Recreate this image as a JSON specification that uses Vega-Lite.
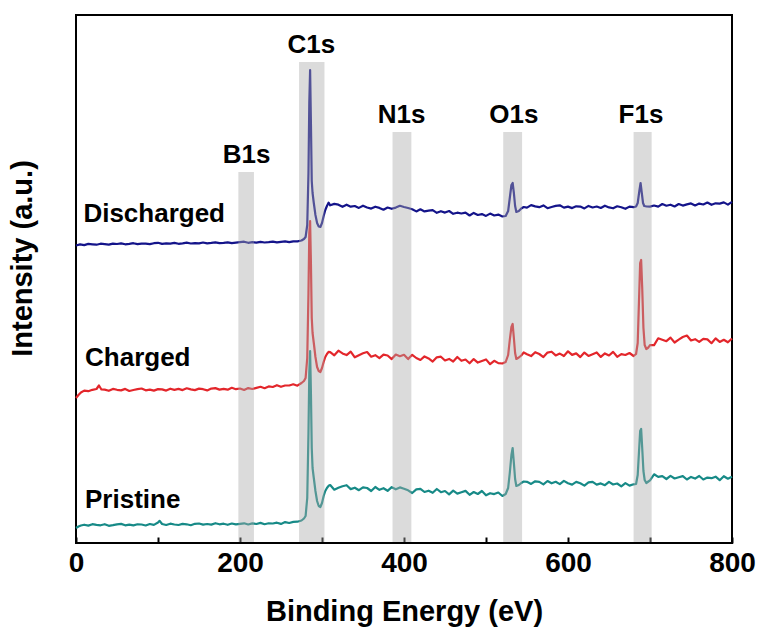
{
  "$schema": "https://vega.github.io/schema/vega-lite/v6.json",
  "width": 656,
  "height": 528,
  "autosize": {"type": "none"},
  "padding": {"left": 76, "top": 15, "right": 26, "bottom": 91},
  "background": "white",
  "config": {
    "view": {"stroke": "black", "strokeWidth": 2},
    "font": "Liberation Sans",
    "text": {"font": "Liberation Sans"}
  },
  "datasets": {
    "spectra": [
      {"sample":"Pristine","eV":0,"intensity":15},{"sample":"Pristine","eV":3,"intensity":16.5},{"sample":"Pristine","eV":6,"intensity":17.5},{"sample":"Pristine","eV":10,"intensity":18.3},{"sample":"Pristine","eV":15,"intensity":17.4},{"sample":"Pristine","eV":20,"intensity":18.8},{"sample":"Pristine","eV":25,"intensity":18.1},{"sample":"Pristine","eV":30,"intensity":17.7},{"sample":"Pristine","eV":35,"intensity":18.8},{"sample":"Pristine","eV":40,"intensity":17.2},{"sample":"Pristine","eV":45,"intensity":17.9},{"sample":"Pristine","eV":50,"intensity":18.7},{"sample":"Pristine","eV":55,"intensity":19.1},{"sample":"Pristine","eV":60,"intensity":17.7},{"sample":"Pristine","eV":65,"intensity":18.3},{"sample":"Pristine","eV":70,"intensity":17.6},{"sample":"Pristine","eV":75,"intensity":18.7},{"sample":"Pristine","eV":80,"intensity":18.5},{"sample":"Pristine","eV":85,"intensity":17.5},{"sample":"Pristine","eV":90,"intensity":19.0},{"sample":"Pristine","eV":95,"intensity":18.1},{"sample":"Pristine","eV":100,"intensity":20.5},{"sample":"Pristine","eV":102,"intensity":22.2},{"sample":"Pristine","eV":105,"intensity":19},{"sample":"Pristine","eV":110,"intensity":18.0},{"sample":"Pristine","eV":115,"intensity":19.3},{"sample":"Pristine","eV":120,"intensity":18.5},{"sample":"Pristine","eV":125,"intensity":18.0},{"sample":"Pristine","eV":130,"intensity":19.1},{"sample":"Pristine","eV":135,"intensity":18.7},{"sample":"Pristine","eV":140,"intensity":17.8},{"sample":"Pristine","eV":145,"intensity":19.2},{"sample":"Pristine","eV":150,"intensity":19.5},{"sample":"Pristine","eV":155,"intensity":18.4},{"sample":"Pristine","eV":160,"intensity":19.0},{"sample":"Pristine","eV":165,"intensity":18.4},{"sample":"Pristine","eV":170,"intensity":19.8},{"sample":"Pristine","eV":175,"intensity":18.7},{"sample":"Pristine","eV":180,"intensity":19.3},{"sample":"Pristine","eV":185,"intensity":18.2},{"sample":"Pristine","eV":190,"intensity":19.5},{"sample":"Pristine","eV":195,"intensity":18.6},{"sample":"Pristine","eV":200,"intensity":19.2},{"sample":"Pristine","eV":205,"intensity":19.7},{"sample":"Pristine","eV":210,"intensity":18.5},{"sample":"Pristine","eV":215,"intensity":19.6},{"sample":"Pristine","eV":220,"intensity":19.0},{"sample":"Pristine","eV":225,"intensity":20.1},{"sample":"Pristine","eV":230,"intensity":18.8},{"sample":"Pristine","eV":235,"intensity":19.7},{"sample":"Pristine","eV":240,"intensity":19.5},{"sample":"Pristine","eV":245,"intensity":20.3},{"sample":"Pristine","eV":250,"intensity":19.1},{"sample":"Pristine","eV":255,"intensity":20.9},{"sample":"Pristine","eV":260,"intensity":20.0},{"sample":"Pristine","eV":265,"intensity":21.1},{"sample":"Pristine","eV":270,"intensity":21.3},{"sample":"Pristine","eV":275,"intensity":22.5},{"sample":"Pristine","eV":278,"intensity":24.5},{"sample":"Pristine","eV":280,"intensity":27},{"sample":"Pristine","eV":282,"intensity":45},{"sample":"Pristine","eV":283.5,"intensity":110},{"sample":"Pristine","eV":284.5,"intensity":170},{"sample":"Pristine","eV":285.5,"intensity":192},{"sample":"Pristine","eV":286.5,"intensity":150},{"sample":"Pristine","eV":287.5,"intensity":95},{"sample":"Pristine","eV":288.5,"intensity":75},{"sample":"Pristine","eV":290,"intensity":65},{"sample":"Pristine","eV":292,"intensity":52},{"sample":"Pristine","eV":294,"intensity":42},{"sample":"Pristine","eV":296,"intensity":37},{"sample":"Pristine","eV":298,"intensity":36},{"sample":"Pristine","eV":300,"intensity":40},{"sample":"Pristine","eV":302,"intensity":47},{"sample":"Pristine","eV":304,"intensity":52},{"sample":"Pristine","eV":306,"intensity":55},{"sample":"Pristine","eV":308,"intensity":57.2},{"sample":"Pristine","eV":310,"intensity":58.0},{"sample":"Pristine","eV":315,"intensity":53.3},{"sample":"Pristine","eV":320,"intensity":55.2},{"sample":"Pristine","eV":325,"intensity":56.8},{"sample":"Pristine","eV":330,"intensity":57.8},{"sample":"Pristine","eV":335,"intensity":53.9},{"sample":"Pristine","eV":340,"intensity":55.3},{"sample":"Pristine","eV":345,"intensity":52.8},{"sample":"Pristine","eV":350,"intensity":55.7},{"sample":"Pristine","eV":355,"intensity":55.0},{"sample":"Pristine","eV":360,"intensity":52.0},{"sample":"Pristine","eV":365,"intensity":56.0},{"sample":"Pristine","eV":370,"intensity":53.2},{"sample":"Pristine","eV":375,"intensity":54.8},{"sample":"Pristine","eV":380,"intensity":52.2},{"sample":"Pristine","eV":385,"intensity":55.8},{"sample":"Pristine","eV":390,"intensity":53.7},{"sample":"Pristine","eV":395,"intensity":55.6},{"sample":"Pristine","eV":400,"intensity":54.3},{"sample":"Pristine","eV":405,"intensity":52.7},{"sample":"Pristine","eV":410,"intensity":50.0},{"sample":"Pristine","eV":415,"intensity":53.6},{"sample":"Pristine","eV":420,"intensity":54.2},{"sample":"Pristine","eV":425,"intensity":51.0},{"sample":"Pristine","eV":430,"intensity":52.3},{"sample":"Pristine","eV":435,"intensity":50.2},{"sample":"Pristine","eV":440,"intensity":54.0},{"sample":"Pristine","eV":445,"intensity":50.8},{"sample":"Pristine","eV":450,"intensity":52.0},{"sample":"Pristine","eV":455,"intensity":48.7},{"sample":"Pristine","eV":460,"intensity":52.3},{"sample":"Pristine","eV":465,"intensity":49.4},{"sample":"Pristine","eV":470,"intensity":50.8},{"sample":"Pristine","eV":475,"intensity":52.1},{"sample":"Pristine","eV":480,"intensity":48.2},{"sample":"Pristine","eV":485,"intensity":51.0},{"sample":"Pristine","eV":490,"intensity":49.0},{"sample":"Pristine","eV":495,"intensity":52.0},{"sample":"Pristine","eV":500,"intensity":47.7},{"sample":"Pristine","eV":505,"intensity":49.8},{"sample":"Pristine","eV":510,"intensity":48.9},{"sample":"Pristine","eV":515,"intensity":50.5},{"sample":"Pristine","eV":520,"intensity":47},{"sample":"Pristine","eV":524,"intensity":49},{"sample":"Pristine","eV":527,"intensity":55},{"sample":"Pristine","eV":529,"intensity":70},{"sample":"Pristine","eV":531,"intensity":88},{"sample":"Pristine","eV":532.5,"intensity":95},{"sample":"Pristine","eV":534,"intensity":80},{"sample":"Pristine","eV":535.5,"intensity":64},{"sample":"Pristine","eV":537,"intensity":57},{"sample":"Pristine","eV":540,"intensity":58},{"sample":"Pristine","eV":543,"intensity":60},{"sample":"Pristine","eV":546,"intensity":61.5},{"sample":"Pristine","eV":550,"intensity":61.2},{"sample":"Pristine","eV":555,"intensity":59.1},{"sample":"Pristine","eV":560,"intensity":61.7},{"sample":"Pristine","eV":565,"intensity":61.1},{"sample":"Pristine","eV":570,"intensity":58.6},{"sample":"Pristine","eV":575,"intensity":62.0},{"sample":"Pristine","eV":580,"intensity":59.7},{"sample":"Pristine","eV":585,"intensity":61.2},{"sample":"Pristine","eV":590,"intensity":58.9},{"sample":"Pristine","eV":595,"intensity":62.1},{"sample":"Pristine","eV":600,"intensity":59.8},{"sample":"Pristine","eV":605,"intensity":58.4},{"sample":"Pristine","eV":610,"intensity":61.1},{"sample":"Pristine","eV":615,"intensity":59.7},{"sample":"Pristine","eV":620,"intensity":57.4},{"sample":"Pristine","eV":625,"intensity":60.6},{"sample":"Pristine","eV":630,"intensity":61.2},{"sample":"Pristine","eV":635,"intensity":58.4},{"sample":"Pristine","eV":640,"intensity":59.6},{"sample":"Pristine","eV":645,"intensity":57.8},{"sample":"Pristine","eV":650,"intensity":61.2},{"sample":"Pristine","eV":655,"intensity":58.5},{"sample":"Pristine","eV":660,"intensity":59.5},{"sample":"Pristine","eV":665,"intensity":56.7},{"sample":"Pristine","eV":670,"intensity":59.9},{"sample":"Pristine","eV":675,"intensity":57.4},{"sample":"Pristine","eV":680,"intensity":58.7},{"sample":"Pristine","eV":683,"intensity":59},{"sample":"Pristine","eV":685,"intensity":68},{"sample":"Pristine","eV":686.5,"intensity":90},{"sample":"Pristine","eV":688,"intensity":112},{"sample":"Pristine","eV":689.2,"intensity":114},{"sample":"Pristine","eV":690.5,"intensity":95},{"sample":"Pristine","eV":692,"intensity":72},{"sample":"Pristine","eV":693.5,"intensity":63},{"sample":"Pristine","eV":695.5,"intensity":60},{"sample":"Pristine","eV":698,"intensity":61.5},{"sample":"Pristine","eV":700,"intensity":62.7},{"sample":"Pristine","eV":705,"intensity":68.7},{"sample":"Pristine","eV":710,"intensity":66.1},{"sample":"Pristine","eV":715,"intensity":66.9},{"sample":"Pristine","eV":720,"intensity":64.0},{"sample":"Pristine","eV":725,"intensity":67.1},{"sample":"Pristine","eV":730,"intensity":64.5},{"sample":"Pristine","eV":735,"intensity":65.7},{"sample":"Pristine","eV":740,"intensity":66.9},{"sample":"Pristine","eV":745,"intensity":63.5},{"sample":"Pristine","eV":750,"intensity":66.1},{"sample":"Pristine","eV":755,"intensity":64.4},{"sample":"Pristine","eV":760,"intensity":67.0},{"sample":"Pristine","eV":765,"intensity":63.5},{"sample":"Pristine","eV":770,"intensity":65.4},{"sample":"Pristine","eV":775,"intensity":64.8},{"sample":"Pristine","eV":780,"intensity":66.3},{"sample":"Pristine","eV":785,"intensity":62.8},{"sample":"Pristine","eV":790,"intensity":66.8},{"sample":"Pristine","eV":795,"intensity":64.3},{"sample":"Pristine","eV":800,"intensity":66.2},

      {"sample":"Charged","eV":0,"intensity":145},{"sample":"Charged","eV":3,"intensity":148},{"sample":"Charged","eV":6,"intensity":150.5},{"sample":"Charged","eV":10,"intensity":152.4},{"sample":"Charged","eV":15,"intensity":151.8},{"sample":"Charged","eV":20,"intensity":153.2},{"sample":"Charged","eV":25,"intensity":154},{"sample":"Charged","eV":28,"intensity":157.5},{"sample":"Charged","eV":31,"intensity":153.5},{"sample":"Charged","eV":35,"intensity":153.4},{"sample":"Charged","eV":40,"intensity":152.2},{"sample":"Charged","eV":45,"intensity":154.1},{"sample":"Charged","eV":50,"intensity":153.2},{"sample":"Charged","eV":55,"intensity":152.6},{"sample":"Charged","eV":60,"intensity":154.1},{"sample":"Charged","eV":65,"intensity":152.0},{"sample":"Charged","eV":70,"intensity":153.0},{"sample":"Charged","eV":75,"intensity":153.8},{"sample":"Charged","eV":80,"intensity":154.5},{"sample":"Charged","eV":85,"intensity":152.7},{"sample":"Charged","eV":90,"intensity":153.4},{"sample":"Charged","eV":95,"intensity":152.4},{"sample":"Charged","eV":100,"intensity":153.9},{"sample":"Charged","eV":105,"intensity":153.6},{"sample":"Charged","eV":110,"intensity":152.4},{"sample":"Charged","eV":115,"intensity":154.3},{"sample":"Charged","eV":120,"intensity":153.1},{"sample":"Charged","eV":125,"intensity":154.1},{"sample":"Charged","eV":130,"intensity":152.9},{"sample":"Charged","eV":135,"intensity":154.7},{"sample":"Charged","eV":140,"intensity":153.6},{"sample":"Charged","eV":145,"intensity":152.9},{"sample":"Charged","eV":150,"intensity":154.4},{"sample":"Charged","eV":155,"intensity":153.8},{"sample":"Charged","eV":160,"intensity":152.6},{"sample":"Charged","eV":165,"intensity":154.4},{"sample":"Charged","eV":170,"intensity":154.9},{"sample":"Charged","eV":175,"intensity":153.4},{"sample":"Charged","eV":180,"intensity":154.1},{"sample":"Charged","eV":185,"intensity":153.3},{"sample":"Charged","eV":190,"intensity":155.2},{"sample":"Charged","eV":195,"intensity":153.8},{"sample":"Charged","eV":200,"intensity":154.5},{"sample":"Charged","eV":205,"intensity":153.0},{"sample":"Charged","eV":210,"intensity":154.9},{"sample":"Charged","eV":215,"intensity":154.0},{"sample":"Charged","eV":220,"intensity":155.1},{"sample":"Charged","eV":225,"intensity":156.2},{"sample":"Charged","eV":230,"intensity":154.8},{"sample":"Charged","eV":235,"intensity":156.6},{"sample":"Charged","eV":240,"intensity":156.0},{"sample":"Charged","eV":245,"intensity":157.8},{"sample":"Charged","eV":250,"intensity":156.2},{"sample":"Charged","eV":255,"intensity":157.5},{"sample":"Charged","eV":260,"intensity":157.5},{"sample":"Charged","eV":265,"intensity":158.7},{"sample":"Charged","eV":270,"intensity":157.3},{"sample":"Charged","eV":275,"intensity":160},{"sample":"Charged","eV":278,"intensity":162},{"sample":"Charged","eV":280,"intensity":165},{"sample":"Charged","eV":282,"intensity":185},{"sample":"Charged","eV":283.5,"intensity":250},{"sample":"Charged","eV":284.5,"intensity":310},{"sample":"Charged","eV":285.5,"intensity":322},{"sample":"Charged","eV":286.5,"intensity":280},{"sample":"Charged","eV":287.5,"intensity":225},{"sample":"Charged","eV":288.5,"intensity":210},{"sample":"Charged","eV":290,"intensity":200},{"sample":"Charged","eV":292,"intensity":186},{"sample":"Charged","eV":294,"intensity":176},{"sample":"Charged","eV":296,"intensity":172},{"sample":"Charged","eV":298,"intensity":171},{"sample":"Charged","eV":300,"intensity":175},{"sample":"Charged","eV":302,"intensity":181},{"sample":"Charged","eV":304,"intensity":186},{"sample":"Charged","eV":306,"intensity":189},{"sample":"Charged","eV":308,"intensity":191.2},{"sample":"Charged","eV":310,"intensity":190.9},{"sample":"Charged","eV":315,"intensity":187.7},{"sample":"Charged","eV":320,"intensity":192.3},{"sample":"Charged","eV":325,"intensity":189.6},{"sample":"Charged","eV":330,"intensity":187.9},{"sample":"Charged","eV":335,"intensity":191.3},{"sample":"Charged","eV":340,"intensity":185.7},{"sample":"Charged","eV":345,"intensity":187.8},{"sample":"Charged","eV":350,"intensity":189.7},{"sample":"Charged","eV":355,"intensity":191.0},{"sample":"Charged","eV":360,"intensity":186.3},{"sample":"Charged","eV":365,"intensity":187.8},{"sample":"Charged","eV":370,"intensity":184.9},{"sample":"Charged","eV":375,"intensity":188.3},{"sample":"Charged","eV":380,"intensity":187.5},{"sample":"Charged","eV":385,"intensity":183.9},{"sample":"Charged","eV":390,"intensity":188.5},{"sample":"Charged","eV":395,"intensity":186.8},{"sample":"Charged","eV":400,"intensity":188.2},{"sample":"Charged","eV":405,"intensity":183.9},{"sample":"Charged","eV":410,"intensity":188.2},{"sample":"Charged","eV":415,"intensity":185.0},{"sample":"Charged","eV":420,"intensity":183.0},{"sample":"Charged","eV":425,"intensity":186.6},{"sample":"Charged","eV":430,"intensity":184.6},{"sample":"Charged","eV":435,"intensity":181.4},{"sample":"Charged","eV":440,"intensity":185.7},{"sample":"Charged","eV":445,"intensity":186.3},{"sample":"Charged","eV":450,"intensity":182.5},{"sample":"Charged","eV":455,"intensity":184.1},{"sample":"Charged","eV":460,"intensity":181.5},{"sample":"Charged","eV":465,"intensity":186.0},{"sample":"Charged","eV":470,"intensity":182.2},{"sample":"Charged","eV":475,"intensity":183.5},{"sample":"Charged","eV":480,"intensity":179.7},{"sample":"Charged","eV":485,"intensity":183.9},{"sample":"Charged","eV":490,"intensity":180.4},{"sample":"Charged","eV":495,"intensity":182.0},{"sample":"Charged","eV":500,"intensity":183.6},{"sample":"Charged","eV":505,"intensity":178.8},{"sample":"Charged","eV":510,"intensity":182.2},{"sample":"Charged","eV":515,"intensity":179.9},{"sample":"Charged","eV":520,"intensity":179.5},{"sample":"Charged","eV":524,"intensity":181},{"sample":"Charged","eV":527,"intensity":188},{"sample":"Charged","eV":529,"intensity":203},{"sample":"Charged","eV":531,"intensity":216},{"sample":"Charged","eV":532.5,"intensity":219},{"sample":"Charged","eV":534,"intensity":205},{"sample":"Charged","eV":535.5,"intensity":190},{"sample":"Charged","eV":537,"intensity":184},{"sample":"Charged","eV":540,"intensity":185.5},{"sample":"Charged","eV":543,"intensity":187.5},{"sample":"Charged","eV":546,"intensity":190.5},{"sample":"Charged","eV":550,"intensity":188.7},{"sample":"Charged","eV":555,"intensity":186.9},{"sample":"Charged","eV":560,"intensity":190.8},{"sample":"Charged","eV":565,"intensity":189.0},{"sample":"Charged","eV":570,"intensity":185.9},{"sample":"Charged","eV":575,"intensity":190.4},{"sample":"Charged","eV":580,"intensity":191.3},{"sample":"Charged","eV":585,"intensity":187.6},{"sample":"Charged","eV":590,"intensity":189.4},{"sample":"Charged","eV":595,"intensity":187.0},{"sample":"Charged","eV":600,"intensity":191.7},{"sample":"Charged","eV":605,"intensity":188.1},{"sample":"Charged","eV":610,"intensity":189.6},{"sample":"Charged","eV":615,"intensity":185.9},{"sample":"Charged","eV":620,"intensity":190.4},{"sample":"Charged","eV":625,"intensity":187.1},{"sample":"Charged","eV":630,"intensity":188.8},{"sample":"Charged","eV":635,"intensity":190.6},{"sample":"Charged","eV":640,"intensity":186.1},{"sample":"Charged","eV":645,"intensity":189.6},{"sample":"Charged","eV":650,"intensity":187.5},{"sample":"Charged","eV":655,"intensity":191.1},{"sample":"Charged","eV":660,"intensity":186.2},{"sample":"Charged","eV":665,"intensity":188.9},{"sample":"Charged","eV":670,"intensity":188.0},{"sample":"Charged","eV":675,"intensity":190.0},{"sample":"Charged","eV":680,"intensity":187},{"sample":"Charged","eV":683,"intensity":189},{"sample":"Charged","eV":685,"intensity":200},{"sample":"Charged","eV":686.5,"intensity":240},{"sample":"Charged","eV":688,"intensity":280},{"sample":"Charged","eV":689.2,"intensity":283},{"sample":"Charged","eV":690.5,"intensity":255},{"sample":"Charged","eV":692,"intensity":215},{"sample":"Charged","eV":693.5,"intensity":198},{"sample":"Charged","eV":695.5,"intensity":194},{"sample":"Charged","eV":698,"intensity":195.5},{"sample":"Charged","eV":700,"intensity":197.9},{"sample":"Charged","eV":705,"intensity":197.9},{"sample":"Charged","eV":710,"intensity":204.7},{"sample":"Charged","eV":715,"intensity":203.3},{"sample":"Charged","eV":720,"intensity":201.8},{"sample":"Charged","eV":725,"intensity":205.4},{"sample":"Charged","eV":730,"intensity":200.5},{"sample":"Charged","eV":735,"intensity":203.4},{"sample":"Charged","eV":740,"intensity":206.0},{"sample":"Charged","eV":745,"intensity":207.5},{"sample":"Charged","eV":750,"intensity":202.5},{"sample":"Charged","eV":755,"intensity":203.8},{"sample":"Charged","eV":760,"intensity":201.1},{"sample":"Charged","eV":765,"intensity":204.2},{"sample":"Charged","eV":770,"intensity":203.6},{"sample":"Charged","eV":775,"intensity":199.8},{"sample":"Charged","eV":780,"intensity":204.6},{"sample":"Charged","eV":785,"intensity":201.1},{"sample":"Charged","eV":790,"intensity":203.2},{"sample":"Charged","eV":795,"intensity":200.7},{"sample":"Charged","eV":800,"intensity":204.5},

      {"sample":"Discharged","eV":0,"intensity":297.5},{"sample":"Discharged","eV":5,"intensity":298.6},{"sample":"Discharged","eV":10,"intensity":297.9},{"sample":"Discharged","eV":15,"intensity":299.1},{"sample":"Discharged","eV":20,"intensity":298.7},{"sample":"Discharged","eV":25,"intensity":298.3},{"sample":"Discharged","eV":30,"intensity":299.3},{"sample":"Discharged","eV":35,"intensity":298.9},{"sample":"Discharged","eV":40,"intensity":298.4},{"sample":"Discharged","eV":45,"intensity":299.4},{"sample":"Discharged","eV":50,"intensity":299.0},{"sample":"Discharged","eV":55,"intensity":299.6},{"sample":"Discharged","eV":60,"intensity":298.7},{"sample":"Discharged","eV":65,"intensity":299.2},{"sample":"Discharged","eV":70,"intensity":299.8},{"sample":"Discharged","eV":75,"intensity":298.9},{"sample":"Discharged","eV":80,"intensity":299.4},{"sample":"Discharged","eV":85,"intensity":299.3},{"sample":"Discharged","eV":90,"intensity":298.9},{"sample":"Discharged","eV":95,"intensity":299.8},{"sample":"Discharged","eV":100,"intensity":300.2},{"sample":"Discharged","eV":105,"intensity":299.1},{"sample":"Discharged","eV":110,"intensity":299.6},{"sample":"Discharged","eV":115,"intensity":299.4},{"sample":"Discharged","eV":120,"intensity":300.1},{"sample":"Discharged","eV":125,"intensity":299.2},{"sample":"Discharged","eV":130,"intensity":299.7},{"sample":"Discharged","eV":135,"intensity":300.3},{"sample":"Discharged","eV":140,"intensity":299.5},{"sample":"Discharged","eV":145,"intensity":299.9},{"sample":"Discharged","eV":150,"intensity":299.6},{"sample":"Discharged","eV":155,"intensity":300.5},{"sample":"Discharged","eV":160,"intensity":299.7},{"sample":"Discharged","eV":165,"intensity":300.1},{"sample":"Discharged","eV":170,"intensity":300.6},{"sample":"Discharged","eV":175,"intensity":299.8},{"sample":"Discharged","eV":180,"intensity":300.2},{"sample":"Discharged","eV":185,"intensity":300.7},{"sample":"Discharged","eV":190,"intensity":299.9},{"sample":"Discharged","eV":195,"intensity":300.4},{"sample":"Discharged","eV":200,"intensity":300.9},{"sample":"Discharged","eV":205,"intensity":301.3},{"sample":"Discharged","eV":210,"intensity":300.2},{"sample":"Discharged","eV":215,"intensity":300.8},{"sample":"Discharged","eV":220,"intensity":300.4},{"sample":"Discharged","eV":225,"intensity":301.1},{"sample":"Discharged","eV":230,"intensity":300.5},{"sample":"Discharged","eV":235,"intensity":300.9},{"sample":"Discharged","eV":240,"intensity":301.4},{"sample":"Discharged","eV":245,"intensity":300.6},{"sample":"Discharged","eV":250,"intensity":301.2},{"sample":"Discharged","eV":255,"intensity":301.6},{"sample":"Discharged","eV":260,"intensity":300.9},{"sample":"Discharged","eV":265,"intensity":301.7},{"sample":"Discharged","eV":270,"intensity":301.6},{"sample":"Discharged","eV":275,"intensity":302.5},{"sample":"Discharged","eV":278,"intensity":304},{"sample":"Discharged","eV":280,"intensity":306},{"sample":"Discharged","eV":282,"intensity":318},{"sample":"Discharged","eV":283.5,"intensity":370},{"sample":"Discharged","eV":284.5,"intensity":440},{"sample":"Discharged","eV":285.5,"intensity":473},{"sample":"Discharged","eV":286.5,"intensity":420},{"sample":"Discharged","eV":287.5,"intensity":362},{"sample":"Discharged","eV":288.5,"intensity":350},{"sample":"Discharged","eV":290,"intensity":340},{"sample":"Discharged","eV":292,"intensity":328},{"sample":"Discharged","eV":294,"intensity":320},{"sample":"Discharged","eV":296,"intensity":316.5},{"sample":"Discharged","eV":298,"intensity":316},{"sample":"Discharged","eV":300,"intensity":320},{"sample":"Discharged","eV":302,"intensity":327},{"sample":"Discharged","eV":304,"intensity":333},{"sample":"Discharged","eV":306,"intensity":337},{"sample":"Discharged","eV":308,"intensity":340.3},{"sample":"Discharged","eV":310,"intensity":337.7},{"sample":"Discharged","eV":315,"intensity":339.1},{"sample":"Discharged","eV":320,"intensity":338.3},{"sample":"Discharged","eV":325,"intensity":336.2},{"sample":"Discharged","eV":330,"intensity":338.3},{"sample":"Discharged","eV":335,"intensity":336.3},{"sample":"Discharged","eV":340,"intensity":337.0},{"sample":"Discharged","eV":345,"intensity":335.1},{"sample":"Discharged","eV":350,"intensity":337.3},{"sample":"Discharged","eV":355,"intensity":335.5},{"sample":"Discharged","eV":360,"intensity":334.4},{"sample":"Discharged","eV":365,"intensity":336.3},{"sample":"Discharged","eV":370,"intensity":335.1},{"sample":"Discharged","eV":375,"intensity":333.3},{"sample":"Discharged","eV":380,"intensity":335.5},{"sample":"Discharged","eV":385,"intensity":334.2},{"sample":"Discharged","eV":390,"intensity":335.4},{"sample":"Discharged","eV":395,"intensity":337.2},{"sample":"Discharged","eV":400,"intensity":336.0},{"sample":"Discharged","eV":405,"intensity":335.0},{"sample":"Discharged","eV":410,"intensity":333.8},{"sample":"Discharged","eV":415,"intensity":331.6},{"sample":"Discharged","eV":420,"intensity":333.7},{"sample":"Discharged","eV":425,"intensity":331.6},{"sample":"Discharged","eV":430,"intensity":332.3},{"sample":"Discharged","eV":435,"intensity":332.9},{"sample":"Discharged","eV":440,"intensity":330.2},{"sample":"Discharged","eV":445,"intensity":331.8},{"sample":"Discharged","eV":450,"intensity":330.4},{"sample":"Discharged","eV":455,"intensity":332.0},{"sample":"Discharged","eV":460,"intensity":329.2},{"sample":"Discharged","eV":465,"intensity":330.3},{"sample":"Discharged","eV":470,"intensity":329.5},{"sample":"Discharged","eV":475,"intensity":330.4},{"sample":"Discharged","eV":480,"intensity":327.5},{"sample":"Discharged","eV":485,"intensity":330.1},{"sample":"Discharged","eV":490,"intensity":328.0},{"sample":"Discharged","eV":495,"intensity":328.9},{"sample":"Discharged","eV":500,"intensity":327.1},{"sample":"Discharged","eV":505,"intensity":329.4},{"sample":"Discharged","eV":510,"intensity":327.5},{"sample":"Discharged","eV":515,"intensity":328.4},{"sample":"Discharged","eV":520,"intensity":326.5},{"sample":"Discharged","eV":524,"intensity":327},{"sample":"Discharged","eV":527,"intensity":332},{"sample":"Discharged","eV":529,"intensity":345},{"sample":"Discharged","eV":531,"intensity":358},{"sample":"Discharged","eV":532.5,"intensity":360},{"sample":"Discharged","eV":534,"intensity":350},{"sample":"Discharged","eV":535.5,"intensity":337},{"sample":"Discharged","eV":537,"intensity":331},{"sample":"Discharged","eV":540,"intensity":332},{"sample":"Discharged","eV":543,"intensity":334.5},{"sample":"Discharged","eV":546,"intensity":336.0},{"sample":"Discharged","eV":550,"intensity":335.4},{"sample":"Discharged","eV":555,"intensity":337.9},{"sample":"Discharged","eV":560,"intensity":336.6},{"sample":"Discharged","eV":565,"intensity":335.8},{"sample":"Discharged","eV":570,"intensity":337.6},{"sample":"Discharged","eV":575,"intensity":334.8},{"sample":"Discharged","eV":580,"intensity":336.0},{"sample":"Discharged","eV":585,"intensity":337.1},{"sample":"Discharged","eV":590,"intensity":337.7},{"sample":"Discharged","eV":595,"intensity":335.4},{"sample":"Discharged","eV":600,"intensity":336.4},{"sample":"Discharged","eV":605,"intensity":334.9},{"sample":"Discharged","eV":610,"intensity":336.7},{"sample":"Discharged","eV":615,"intensity":336.4},{"sample":"Discharged","eV":620,"intensity":334.6},{"sample":"Discharged","eV":625,"intensity":337.1},{"sample":"Discharged","eV":630,"intensity":335.5},{"sample":"Discharged","eV":635,"intensity":336.5},{"sample":"Discharged","eV":640,"intensity":335.0},{"sample":"Discharged","eV":645,"intensity":337.3},{"sample":"Discharged","eV":650,"intensity":335.6},{"sample":"Discharged","eV":655,"intensity":334.7},{"sample":"Discharged","eV":660,"intensity":336.7},{"sample":"Discharged","eV":665,"intensity":335.7},{"sample":"Discharged","eV":670,"intensity":334.2},{"sample":"Discharged","eV":675,"intensity":336.4},{"sample":"Discharged","eV":680,"intensity":335.8},{"sample":"Discharged","eV":683,"intensity":336.5},{"sample":"Discharged","eV":685,"intensity":340},{"sample":"Discharged","eV":687,"intensity":352},{"sample":"Discharged","eV":688.5,"intensity":360},{"sample":"Discharged","eV":690,"intensity":350},{"sample":"Discharged","eV":691.5,"intensity":340},{"sample":"Discharged","eV":693,"intensity":337},{"sample":"Discharged","eV":696,"intensity":336.5},{"sample":"Discharged","eV":700,"intensity":336.4},{"sample":"Discharged","eV":705,"intensity":337.5},{"sample":"Discharged","eV":710,"intensity":336.4},{"sample":"Discharged","eV":715,"intensity":339.0},{"sample":"Discharged","eV":720,"intensity":337.3},{"sample":"Discharged","eV":725,"intensity":338.3},{"sample":"Discharged","eV":730,"intensity":336.5},{"sample":"Discharged","eV":735,"intensity":339.0},{"sample":"Discharged","eV":740,"intensity":337.4},{"sample":"Discharged","eV":745,"intensity":338.6},{"sample":"Discharged","eV":750,"intensity":339.6},{"sample":"Discharged","eV":755,"intensity":337.5},{"sample":"Discharged","eV":760,"intensity":339.4},{"sample":"Discharged","eV":765,"intensity":338.5},{"sample":"Discharged","eV":770,"intensity":340.5},{"sample":"Discharged","eV":775,"intensity":338.2},{"sample":"Discharged","eV":780,"intensity":339.7},{"sample":"Discharged","eV":785,"intensity":339.4},{"sample":"Discharged","eV":790,"intensity":340.6},{"sample":"Discharged","eV":795,"intensity":338.4},{"sample":"Discharged","eV":800,"intensity":341.2}
    ],
    "bands": [
      {"level":"B1s","lo":198,"hi":217,"peak":208,"top":371},
      {"level":"C1s","lo":272,"hi":303,"peak":287,"top":481},
      {"level":"N1s","lo":386,"hi":409,"peak":397,"top":411},
      {"level":"O1s","lo":521,"hi":544,"peak":534,"top":411},
      {"level":"F1s","lo":680,"hi":702,"peak":689,"top":411}
    ],
    "names": [
      {"sample":"Discharged","eV":9,"intensity":321.5},
      {"sample":"Charged","eV":11,"intensity":177},
      {"sample":"Pristine","eV":11,"intensity":35}
    ]
  },
  "layer": [
    {
      "data": {"name": "spectra"},
      "mark": {"type": "line", "strokeWidth": 2.2, "strokeJoin": "round"},
      "encoding": {
        "x": {
          "field": "eV", "type": "quantitative",
          "scale": {"domain": [0, 800], "nice": false, "zero": false},
          "axis": {
            "title": "Binding Energy (eV)",
            "values": [0, 100, 200, 300, 400, 500, 600, 700, 800],
            "labelExpr": "datum.value % 200 === 0 ? datum.label : ''",
            "domain": false, "grid": false,
            "ticks": true, "tickSize": -6, "tickWidth": 2, "tickColor": "black",
            "labelFont": "Liberation Sans", "labelFontSize": 28, "labelFontWeight": "bold", "labelColor": "black",
            "labelBaseline": "alphabetic", "labelPadding": 34, "labelFlush": false, "labelOverlap": false,
            "titleFont": "Liberation Sans", "titleFontSize": 29, "titleFontWeight": "bold", "titleColor": "black",
            "titleBaseline": "alphabetic", "titleY": 77, "titleX": 328, "titleAlign": "center"
          }
        },
        "y": {
          "field": "intensity", "type": "quantitative",
          "scale": {"domain": [0, 528], "nice": false, "zero": false},
          "axis": {
            "title": "Intensity (a.u.)",
            "labels": false, "ticks": false, "domain": false, "grid": false,
            "titleFont": "Liberation Sans", "titleFontSize": 29, "titleFontWeight": "bold", "titleColor": "black",
            "titleAngle": 270, "titleBaseline": "alphabetic", "titleAlign": "center",
            "titleX": -45, "titleY": 243
          }
        },
        "color": {
          "field": "sample", "type": "nominal",
          "scale": {"domain": ["Pristine", "Charged", "Discharged"], "range": ["#178a87", "#e3262b", "#14148a"]},
          "legend": null
        }
      }
    },
    {
      "data": {"name": "bands"},
      "mark": {"type": "rect", "color": "#a9a9a9", "opacity": 0.42},
      "encoding": {
        "x": {"field": "lo", "type": "quantitative"},
        "x2": {"field": "hi"},
        "y": {"field": "top", "type": "quantitative"},
        "y2": {"datum": 1}
      }
    },
    {
      "data": {"name": "bands"},
      "mark": {"type": "text", "fontSize": 26, "fontWeight": "bold", "font": "Liberation Sans", "color": "black", "align": "center", "baseline": "alphabetic", "dy": -9},
      "encoding": {
        "x": {"field": "peak", "type": "quantitative"},
        "y": {"field": "top", "type": "quantitative"},
        "text": {"field": "level"}
      }
    },
    {
      "data": {"name": "names"},
      "mark": {"type": "text", "fontSize": 26, "fontWeight": "bold", "font": "Liberation Sans", "color": "black", "align": "left", "baseline": "alphabetic"},
      "encoding": {
        "x": {"field": "eV", "type": "quantitative"},
        "y": {"field": "intensity", "type": "quantitative"},
        "text": {"field": "sample"}
      }
    }
  ]
}
